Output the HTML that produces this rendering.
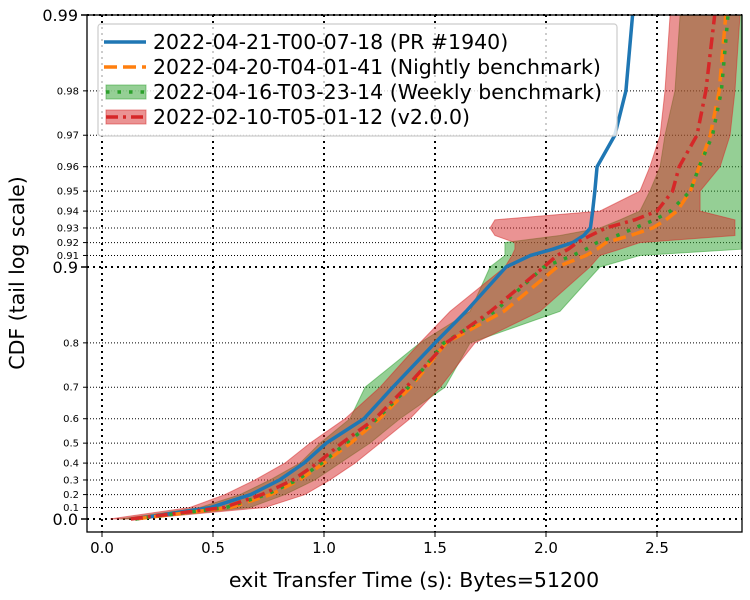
<!DOCTYPE html>
<html><head><meta charset="utf-8"><style>
html,body{margin:0;padding:0;background:#fff;}
svg{display:block;font-family:"DejaVu Sans","Liberation Sans",sans-serif;}
</style></head><body>
<svg id="chart" width="750" height="600"></svg>
<script>
// ---- data ----
const pLevels = [0,0.1,0.2,0.3,0.4,0.5,0.6,0.7,0.8,0.85,0.9,0.91,0.915,0.92,0.925,0.93,0.935,0.94,0.95,0.96,0.97,0.98,0.99];
const seriesNames = ["2022-04-21-T00-07-18 (PR #1940)","2022-04-20-T04-01-41 (Nightly benchmark)","2022-04-16-T03-23-14 (Weekly benchmark)","2022-02-10-T05-01-12 (v2.0.0)"];
const blueX   = [0.15,0.49,0.67,0.80,0.91,1.01,1.18,1.31,1.50,1.64,1.82,1.93,2.03,2.12,2.17,2.20,2.205,2.21,2.22,2.23,2.31,2.36,2.39];
const orangeX = [0.15,0.58,0.76,0.89,1.00,1.12,1.25,1.39,1.55,1.81,2.05,2.18,2.23,2.27,2.38,2.48,2.54,2.59,2.65,2.69,2.74,2.78,2.81];
const greenX  = [0.15,0.56,0.74,0.88,0.99,1.10,1.24,1.38,1.54,1.77,1.99,2.12,2.18,2.23,2.32,2.40,2.49,2.56,2.65,2.69,2.75,2.79,2.82];
const redX    = [0.13,0.55,0.72,0.86,0.97,1.08,1.23,1.37,1.55,1.75,1.99,2.05,2.10,2.14,2.20,2.27,2.40,2.50,2.57,2.60,2.68,2.72,2.76];
const greenLo = [0.081,0.441,0.622,0.757,0.892,0.982,1.117,1.185,1.432,1.658,1.748,1.815,1.815,1.815,2.063,2.243,2.333,2.423,2.468,2.514,2.536,2.581,2.604];
const greenHi = [0.171,0.667,0.824,0.959,1.072,1.207,1.342,1.545,1.658,2.063,2.243,2.423,2.88,2.88,2.88,2.88,2.88,2.88,2.88,2.88,2.88,2.88,2.88];
const redLo   = [0.036,0.396,0.554,0.689,0.824,0.937,1.095,1.252,1.432,1.568,1.815,1.847,1.860,1.860,1.770,1.748,1.770,2.243,2.423,2.468,2.514,2.536,2.559];
const redHi   = [0.171,0.734,0.914,1.027,1.140,1.252,1.387,1.523,1.680,1.973,2.198,2.243,2.333,2.423,2.851,2.851,2.851,2.694,2.694,2.784,2.829,2.851,2.874];
const xTicks = [0,0.5,1,1.5,2,2.5];
const yMajor = [0,0.9,0.99];
const yMinor = [0.1,0.2,0.3,0.4,0.5,0.6,0.7,0.8,0.91,0.92,0.93,0.94,0.95,0.96,0.97,0.98];

// ---- axes ----
const L=87,R=742,T=15,B=532;
const X = v => 102 + v*222;
const Y = p => 519 - (-Math.log10(1-p))*252;
const NS="http://www.w3.org/2000/svg";
const svg=document.getElementById('chart');
function mk(tag,attrs,parent){const e=document.createElementNS(NS,tag);for(const k in attrs)e.setAttribute(k,attrs[k]);(parent||svg).appendChild(e);return e;}

const defs=mk('defs',{});
const cp=mk('clipPath',{id:'clip'},defs);mk('rect',{x:L,y:T,width:R-L,height:B-T},cp);

const grid=mk('g',{});


xTicks.forEach(v=>{const l=mk('line',{x1:X(v),x2:X(v),y1:T,y2:B,stroke:'#000','stroke-width':2,'stroke-dasharray':'2,4'},grid);});
yMajor.forEach(p=>{const l=mk('line',{x1:L,x2:R,y1:Y(p),y2:Y(p),stroke:'#000','stroke-width':2,'stroke-dasharray':'2,4'},grid);});
yMinor.forEach(p=>{const l=mk('line',{x1:L,x2:R,y1:Y(p),y2:Y(p),stroke:'#000','stroke-width':1,'stroke-dasharray':'1,2'},grid);});

const plot=mk('g',{'clip-path':'url(#clip)'});


function band(lo,hi,fill,stroke){
  let d='M'+lo.map((v,i)=>X(v)+','+Y(pLevels[i])).join('L');
  d+='L'+hi.map((v,i)=>X(v)+','+Y(pLevels[i])).reverse().join('L')+'Z';
  return mk('path',{d:d,fill:fill,'fill-opacity':0.5,stroke:stroke,'stroke-opacity':0.5,'stroke-width':1},plot);
}
const gb=band(greenLo,greenHi,'#2ca02c','#2ca02c');


const rb=band(redLo,redHi,'#d62728','#d62728');


function line(xs,color,dash){
  return mk('polyline',{points:xs.map((v,i)=>X(v)+','+Y(pLevels[i])).join(' '),fill:'none',stroke:color,'stroke-width':3.5,'stroke-dasharray':dash||'none','stroke-linejoin':'round'},plot);
}
const l1=line(blueX,'#1f77b4');


const l2=line(orangeX,'#ff7f0e','13,6');


const l3=line(greenX,'#2ca02c','3.5,8');


const l4=line(redX,'#d62728','12,5,3,5');



const sp=mk('rect',{x:L,y:T,width:R-L,height:B-T,fill:'none',stroke:'#000','stroke-width':1.3});



xTicks.forEach(v=>{
  mk('line',{x1:X(v),x2:X(v),y1:B,y2:B+5,stroke:'#000','stroke-width':1});
  const t=mk('text',{x:X(v),y:B+21,'font-size':15,'text-anchor':'middle'});t.textContent=v.toFixed(1);
  
});
yMajor.forEach(p=>{
  mk('line',{x1:L-6,x2:L,y1:Y(p),y2:Y(p),stroke:'#000','stroke-width':1.5});
  const t=mk('text',{x:L-9,y:Y(p)+6,'font-size':16,'text-anchor':'end'});t.textContent=String(p===0?'0.0':p);
  
});
yMinor.forEach(p=>{
  mk('line',{x1:L-4,x2:L,y1:Y(p),y2:Y(p),stroke:'#000','stroke-width':1});
  const t=mk('text',{x:L-8,y:Y(p)+3.5,'font-size':10,'text-anchor':'end'});t.textContent=String(p);
  
});
</script>
<svg width="750" height="600" style="position:absolute;left:0;top:0">
  <text x="414" y="587" font-size="20.5" text-anchor="middle" font-family="DejaVu Sans, Liberation Sans, sans-serif">exit Transfer Time (s): Bytes=51200</text>
  <text transform="translate(24,273) rotate(-90)" font-size="20.5" text-anchor="middle" font-family="DejaVu Sans, Liberation Sans, sans-serif">CDF (tail log scale)</text>
  <g font-family="DejaVu Sans, Liberation Sans, sans-serif" font-size="20.5">
    <rect x="98" y="24" width="519" height="112" rx="3" fill="#fff" fill-opacity="0.8" stroke="#ccc" stroke-width="1.2"/>
    <g>
      <line x1="104" x2="146" y1="42" y2="42" stroke="#1f77b4" stroke-width="3.5"/>
      <text x="153" y="49">2022-04-21-T00-07-18 (PR #1940)</text>
    </g>
    <g>
      <line x1="104" x2="146" y1="67" y2="67" stroke="#ff7f0e" stroke-width="3.5" stroke-dasharray="13,6"/>
      <text x="153" y="74">2022-04-20-T04-01-41 (Nightly benchmark)</text>
    </g>
    <g>
      <rect x="106" y="85" width="40" height="14" fill="#2ca02c" fill-opacity="0.5" stroke="#2ca02c" stroke-opacity="0.5"/>
      <line x1="106" x2="146" y1="92" y2="92" stroke="#2ca02c" stroke-width="3.5" stroke-dasharray="3.5,8"/>
      <text x="153" y="99">2022-04-16-T03-23-14 (Weekly benchmark)</text>
    </g>
    <g>
      <rect x="106" y="110" width="40" height="14" fill="#d62728" fill-opacity="0.5" stroke="#d62728" stroke-opacity="0.5"/>
      <line x1="106" x2="146" y1="117" y2="117" stroke="#d62728" stroke-width="3.5" stroke-dasharray="12,5,3,5"/>
      <text x="153" y="124">2022-02-10-T05-01-12 (v2.0.0)</text>
    </g>
  </g>
</svg>
</body></html>
